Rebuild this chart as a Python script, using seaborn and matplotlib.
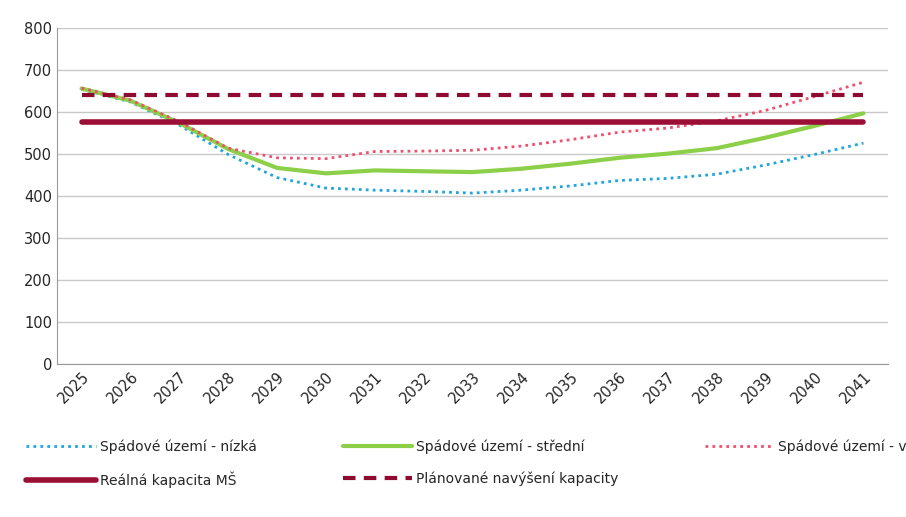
import numpy as np
import pandas as pd
import seaborn as sns
from matplotlib import pyplot as plt

years = [str(y) for y in range(2025, 2042)]
nizka = [655, 625, 570, 500, 445, 420, 415, 412, 408, 415, 425, 438, 443, 453, 475, 500, 527]
stredni = [657, 628, 575, 513, 468, 455, 462, 460, 458, 466, 478, 492, 502, 515, 540, 568, 598]
vysoka = [658, 630, 578, 515, 492, 490, 507, 508, 510, 520, 535, 553, 563, 580, 605, 638, 672]
realna = [577] * 17
planovane = [641] * 17

sns.set_style("white")
plt.rcParams['font.family'] = ['DejaVu Sans']

fig = plt.figure(figsize=(9.06, 5.17), dpi=100)
ax = fig.add_axes([0.063, 0.295, 0.917, 0.65])

x = np.arange(len(years))
df = pd.DataFrame({'x': x, 'nizka': nizka, 'stredni': stredni, 'vysoka': vysoka,
                   'realna': realna, 'planovane': planovane})

sns.lineplot(data=df, x='x', y='nizka', ax=ax, color='#1fa5e0', lw=2, linestyle=(0, (1, 1.5)),
             label='Spádové území - nízká')
sns.lineplot(data=df, x='x', y='stredni', ax=ax, color='#8cd04a', lw=3,
             label='Spádové území - střední')
sns.lineplot(data=df, x='x', y='vysoka', ax=ax, color='#f0506e', lw=2, linestyle=(0, (1, 1.5)),
             label='Spádové území - vysoká')
sns.lineplot(data=df, x='x', y='realna', ax=ax, color='#9b0e35', lw=4,
             label='Reálná kapacita MŠ')
sns.lineplot(data=df, x='x', y='planovane', ax=ax, color='#8e0a30', lw=3, linestyle=(0, (3, 2)),
             label='Plánované navýšení kapacity')

ax.set_xlim(-0.5, len(years) - 0.5)
ax.set_ylim(0, 800)
ax.set_yticks(range(0, 801, 100))
ax.set_xticks(x)
ax.set_xticklabels(years, rotation=45, ha='right', rotation_mode='anchor')
ax.tick_params(axis='both', labelsize=10.5, length=0)
ax.set_xlabel('')
ax.set_ylabel('')
ax.yaxis.grid(True, color='#c8c8c8', lw=1)
for s in ['top', 'right']:
    ax.spines[s].set_visible(False)
ax.spines['left'].set_color('#9a9a9a')
ax.spines['bottom'].set_color('#9a9a9a')

handles, labels = ax.get_legend_handles_labels()
ax.legend().remove()
order = [0, 3, 1, 4, 2]
fig.legend([handles[i] for i in order], [labels[i] for i in order],
           loc='upper left', bbox_to_anchor=(0.015, 0.175), ncol=3,
           frameon=False, fontsize=10, handlelength=5, handletextpad=0.3,
           columnspacing=6.2, labelspacing=1.3)

fig.savefig('out.png', dpi=100)
